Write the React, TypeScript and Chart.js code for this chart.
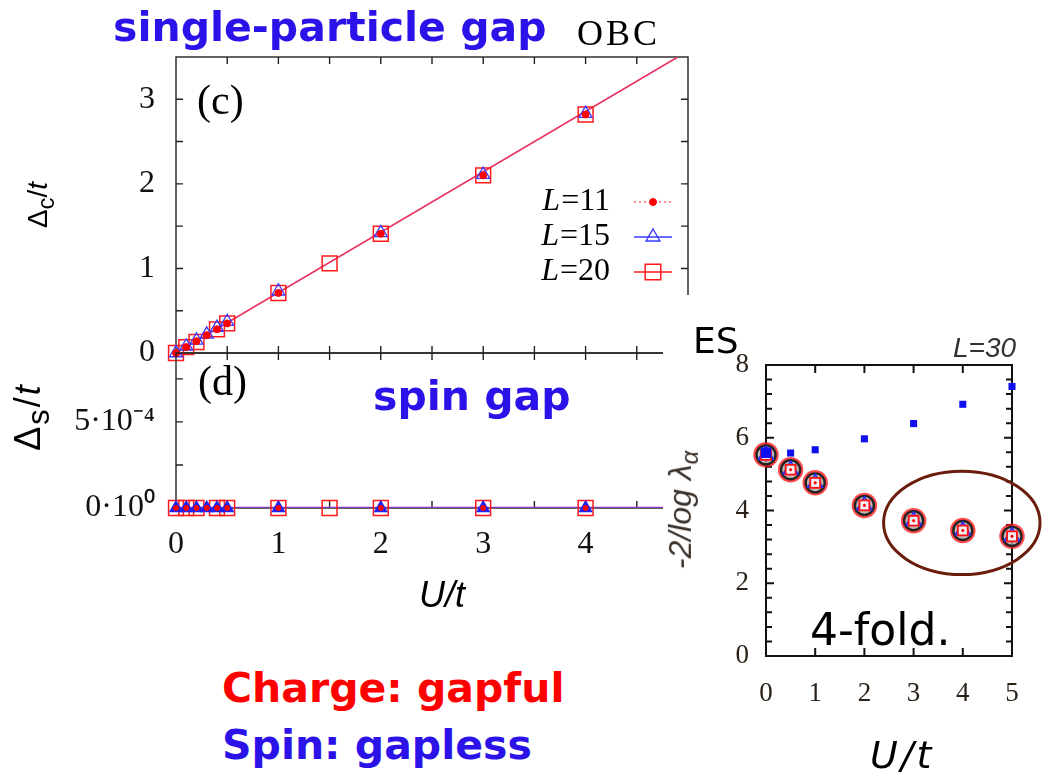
import React, { useEffect, useRef } from 'react';
import { Chart, registerables } from 'chart.js';

Chart.register(...registerables);

// ---------------- data ----------------
const uL11 = [0, 0.1, 0.2, 0.3, 0.4, 0.5, 1, 2, 3, 4];
const gapC_L11 = [0, 0.07, 0.14, 0.21, 0.28, 0.35, 0.71, 1.41, 2.1, 2.82];
const uL15 = [0, 0.1, 0.2, 0.3, 0.4, 0.5, 1, 2, 3, 4];
const gapC_L15 = [0, 0.08, 0.15, 0.22, 0.3, 0.37, 0.73, 1.42, 2.11, 2.83];
const uL20 = [0, 0.1, 0.2, 0.4, 0.5, 1, 1.5, 2, 3, 4];
const gapC_L20 = [0, 0.07, 0.13, 0.28, 0.35, 0.71, 1.06, 1.41, 2.1, 2.82];
const fitU = [0, 4.9];
const fitGapC = [0, 3.5];

const gapS_L11 = [0, 0, 0, 0, 0, 0, 0, 0, 0, 0];
const gapS_L15 = [0, 0, 0, 0, 0, 0, 0, 0, 0, 0];
const gapS_L20 = [0, 0, 0, 0, 0, 0, 0, 0, 0, 0];
const fitUS = [0, 5];
const fitGapS = [0, 0];

const seriesSizes = ['11', '15', '20'];

const cTickValues = [0, 1, 2, 3];
const cFrameX = [0.5, 1, 1.5, 2, 2.5, 3, 3.5, 4, 4.5];
const cFrameY = [0.5, 1, 1.5, 2, 2.5, 3];
const dTickValues = [0, 0.0005];
const dTickLabels = ['0·10⁰', '5·10⁻⁴'];
const dFrameY = [0.00025, 0.0005, 0.00075];
const uTickValues = [0, 1, 2, 3, 4];

const esU = [0, 0.5, 1, 2, 3, 4, 5];
const esUpper = [5.59, 5.58, 5.67, 5.97, 6.39, 6.92, 7.41];
const esLower = [5.53, 5.12, 4.76, 4.14, 3.72, 3.45, 3.29];
const esXTicks = [0, 1, 2, 3, 4, 5];
const esYTicks = [0, 2, 4, 6, 8];
const esYMinor = [0.4, 0.8, 1.2, 1.6, 2.4, 2.8, 3.2, 3.6, 4.4, 4.8, 5.2, 5.6, 6.4, 6.8, 7.2, 7.6];
const ring = { u: 3.98, level: 3.66, du: 1.59, dlevel: 1.42 };

// ---------------- helpers ----------------
const pts = (xs: number[], ys: number[]) => xs.map((x, i) => ({ x, y: ys[i] }));

const RED = '#ff1a1a';
const BLUE = '#3a3aff';
const FIT = '#e8305e';
const SERIF = '"Liberation Serif", "Times New Roman", serif';
const SANS = '"Liberation Sans", Arial, sans-serif';
const GOTHIC = '"DejaVu Sans", sans-serif';

const framePlugin = {
  id: 'frame',
  beforeDatasetsDraw(chart: any, _a: any, o: any) {
    const { ctx, chartArea: a, scales } = chart;
    const x = scales.x, y = scales.y;
    ctx.save();
    ctx.strokeStyle = o.color;
    ctx.lineWidth = o.width;
    ctx.strokeRect(a.left, a.top, a.right - a.left, a.bottom - a.top);
    ctx.beginPath();
    const xt = (vals: number[], len: number) => vals.forEach((v) => {
      const p = x.getPixelForValue(v);
      ctx.moveTo(p, a.bottom); ctx.lineTo(p, a.bottom - len);
      ctx.moveTo(p, a.top); ctx.lineTo(p, a.top + len);
    });
    const yt = (vals: number[], len: number) => vals.forEach((v) => {
      const p = y.getPixelForValue(v);
      ctx.moveTo(a.left, p); ctx.lineTo(a.left + len, p);
      ctx.moveTo(a.right, p); ctx.lineTo(a.right - len, p);
    });
    xt(o.xTicks || [], o.len);
    yt(o.yTicks || [], o.len);
    xt(o.xMinor || [], o.minorLen || o.len);
    yt(o.yMinor || [], o.minorLen || o.len);
    ctx.stroke();
    ctx.restore();
  },
};

function marker(ctx: any, style: string, x: number, y: number, r: number, color: string, fill: boolean) {
  ctx.beginPath();
  if (style === 'circle') ctx.arc(x, y, r, 0, Math.PI * 2);
  else if (style === 'triangle') {
    ctx.moveTo(x, y - r);
    ctx.lineTo(x + r * 0.866, y + r * 0.5);
    ctx.lineTo(x - r * 0.866, y + r * 0.5);
    ctx.closePath();
  } else {
    const s = r * Math.SQRT1_2;
    ctx.rect(x - s, y - s, 2 * s, 2 * s);
  }
  if (fill) { ctx.fillStyle = color; ctx.fill(); }
  ctx.strokeStyle = color;
  ctx.stroke();
}

const legendPlugin = {
  id: 'gLegend',
  afterDatasetsDraw(chart: any, _a: any, o: any) {
    const ctx = chart.ctx;
    ctx.save();
    ctx.textBaseline = 'middle';
    o.items.forEach((it: any, i: number) => {
      const yy = o.y + i * o.dy;
      const rest = '=' + it.size;
      ctx.font = `${o.font}px ${SERIF}`;
      const wRest = ctx.measureText(rest).width;
      ctx.fillStyle = '#000';
      ctx.fillText(rest, o.textRight - wRest, yy);
      ctx.font = `italic ${o.font}px ${SERIF}`;
      const wL = ctx.measureText('L').width;
      ctx.fillText('L', o.textRight - wRest - wL - 1, yy);
      ctx.lineWidth = 1.3;
      ctx.strokeStyle = it.lineColor;
      ctx.setLineDash(it.dash || []);
      ctx.beginPath();
      ctx.moveTo(o.x0, yy);
      ctx.lineTo(o.x1, yy);
      ctx.stroke();
      ctx.setLineDash([]);
      ctx.lineWidth = it.bw;
      marker(ctx, it.style, (o.x0 + o.x1) / 2, yy, it.r, it.color, it.fill);
    });
    ctx.restore();
  },
};

const ringPlugin = {
  id: 'ring',
  afterDatasetsDraw(chart: any, _a: any, o: any) {
    const { ctx, scales } = chart;
    const cx = scales.x.getPixelForValue(o.u);
    const cy = scales.y.getPixelForValue(o.level);
    const rx = Math.abs(scales.x.getPixelForValue(o.u + o.du) - cx);
    const ry = Math.abs(scales.y.getPixelForValue(o.level + o.dlevel) - cy);
    ctx.save();
    ctx.strokeStyle = o.color;
    ctx.lineWidth = o.width;
    ctx.beginPath();
    ctx.ellipse(cx, cy, rx, ry, 0, 0, Math.PI * 2);
    ctx.stroke();
    ctx.restore();
  },
};

const fixX = (height: number) => (s: any) => {
  s.height = height;
  s.paddingLeft = 0; s.paddingRight = 0; s.paddingTop = 0; s.paddingBottom = 0;
};
const fixY = (width: number) => (s: any) => {
  s.width = width;
  s.paddingLeft = 0; s.paddingRight = 0; s.paddingTop = 0; s.paddingBottom = 0;
};

const hiddenAxis = (min: number, max: number) => ({
  type: 'linear', min, max,
  ticks: { display: false },
  grid: { display: false, drawTicks: false },
  border: { display: false },
  afterFit: fixX(0),
});

// ---------------- charts ----------------
function useChart(ref: any, make: () => any) {
  useEffect(() => {
    const chart = new Chart(ref.current, make());
    return () => chart.destroy();
  }, []);
}

function ChargePanel() {
  const ref = useRef<HTMLCanvasElement>(null);
  useChart(ref, () => ({
    type: 'scatter',
    data: {
      datasets: [
        { label: 'L=11', data: pts(uL11, gapC_L11), clip: false, pointStyle: 'circle', pointRadius: 3.5, backgroundColor: '#ff0000', borderColor: '#ff0000', pointBorderWidth: 1 },
        { label: 'L=15', data: pts(uL15, gapC_L15), clip: false, pointStyle: 'triangle', pointRadius: 7.5, backgroundColor: 'rgba(0,0,0,0)', borderColor: BLUE, pointBorderWidth: 1.3 },
        { label: 'L=20', data: pts(uL20, gapC_L20), clip: false, pointStyle: 'rect', pointRadius: 10.5, backgroundColor: 'rgba(0,0,0,0)', borderColor: RED, pointBorderWidth: 1.5 },
        { label: 'fit', data: pts(fitU, fitGapC), showLine: true, pointRadius: 0, borderColor: FIT, borderWidth: 1.6, clip: 0 },
      ],
    },
    options: {
      animation: false, responsive: false, maintainAspectRatio: false,
      layout: { padding: { left: 0, right: 8, top: 57, bottom: 17 } },
      scales: {
        x: hiddenAxis(0, 5),
        y: {
          type: 'linear', min: 0, max: 3.5,
          afterBuildTicks: (s: any) => { s.ticks = cTickValues.map((v) => ({ value: v })); },
          ticks: { font: { family: SERIF, size: 32 }, color: '#111', padding: 21, callback: (v: any) => String(v) },
          grid: { display: false, drawTicks: false },
          border: { display: false },
          afterFit: fixY(176),
        },
      },
      plugins: {
        legend: { display: false }, tooltip: { enabled: false },
        frame: { color: '#222', width: 1.4, len: 7, xTicks: cFrameX, yTicks: cFrameY },
        gLegend: {
          x0: 634, x1: 672, y: 202, dy: 35, textRight: 610, font: 32,
          items: [
            { size: seriesSizes[0], style: 'circle', r: 3.5, color: '#ff0000', fill: true, bw: 1, lineColor: '#ff6a6a', dash: [2, 3] },
            { size: seriesSizes[1], style: 'triangle', r: 8, color: BLUE, fill: false, bw: 1.4, lineColor: BLUE },
            { size: seriesSizes[2], style: 'rect', r: 11, color: RED, fill: false, bw: 1.5, lineColor: RED },
          ],
        },
      },
    },
    plugins: [framePlugin, legendPlugin],
  }));
  return <canvas ref={ref} width={700} height={370} style={{ position: 'absolute', left: 0, top: 0 }} />;
}

function SpinPanel() {
  const ref = useRef<HTMLCanvasElement>(null);
  useChart(ref, () => ({
    type: 'scatter',
    data: {
      datasets: [
        { label: 'L=11', data: pts(uL11, gapS_L11), clip: false, pointStyle: 'circle', pointRadius: 2.5, backgroundColor: '#ff0000', borderColor: '#ff0000', pointBorderWidth: 1 },
        { label: 'L=15', data: pts(uL15, gapS_L15), clip: false, pointStyle: 'triangle', pointRadius: 7, backgroundColor: '#2222ee', borderColor: '#2222ee', pointBorderWidth: 1.3 },
        { label: 'L=20', data: pts(uL20, gapS_L20), clip: false, pointStyle: 'rect', pointRadius: 10.5, backgroundColor: 'rgba(0,0,0,0)', borderColor: RED, pointBorderWidth: 1.5 },
        { label: 'fit', data: pts(fitUS, fitGapS), showLine: true, pointRadius: 0, borderColor: '#8a3acb', borderWidth: 2.5, clip: 0 },
      ],
    },
    options: {
      animation: false, responsive: false, maintainAspectRatio: false,
      layout: { padding: { left: 0, right: 8, top: 13, bottom: 0 } },
      scales: {
        x: {
          type: 'linear', min: 0, max: 5,
          afterBuildTicks: (s: any) => { s.ticks = uTickValues.map((v) => ({ value: v })); },
          ticks: { font: { family: SERIF, size: 32 }, color: '#111', padding: 17, callback: (v: any) => String(v) },
          grid: { display: false, drawTicks: false },
          border: { display: false },
          afterFit: fixX(132),
        },
        y: {
          type: 'linear', min: 0, max: 0.0009,
          afterBuildTicks: (s: any) => { s.ticks = dTickValues.map((v) => ({ value: v })); },
          ticks: { font: { family: SERIF, size: 32 }, color: '#111', padding: 21, callback: (_v: any, i: number) => dTickLabels[i] },
          grid: { display: false, drawTicks: false },
          border: { display: false },
          afterFit: fixY(176),
        },
      },
      plugins: {
        legend: { display: false }, tooltip: { enabled: false },
        frame: { color: '#222', width: 1.4, len: 7, xTicks: cFrameX, yTicks: dFrameY },
      },
    },
    plugins: [framePlugin],
  }));
  return <canvas ref={ref} width={700} height={300} style={{ position: 'absolute', left: 0, top: 340 }} />;
}

function ESPanel() {
  const ref = useRef<HTMLCanvasElement>(null);
  useChart(ref, () => {
    const lower = pts(esU, esLower);
    return {
      type: 'scatter',
      data: {
        datasets: [
          { label: 'upper', data: pts(esU, esUpper), clip: false, pointStyle: 'rect', pointRadius: [7.5, 5, 5, 5, 5, 5, 5], backgroundColor: '#1010ee', borderColor: '#1010ee', pointBorderWidth: 0 },
          { label: 'dot', data: lower, clip: false, pointStyle: 'circle', pointRadius: 1.3, backgroundColor: '#ff0000', borderColor: '#ff0000', pointBorderWidth: 0.5 },
          { label: 'square', data: lower, clip: false, pointStyle: 'rect', pointRadius: 7, backgroundColor: 'rgba(255,255,255,0.85)', borderColor: '#ff1010', pointBorderWidth: 1.8 },
          { label: 'triangle', data: lower, clip: false, pointStyle: 'triangle', pointRadius: 8.5, backgroundColor: 'rgba(0,0,0,0)', borderColor: '#2a2aff', pointBorderWidth: 1.6 },
          { label: 'ringBlack', data: lower, clip: false, pointStyle: 'circle', pointRadius: 9.5, backgroundColor: 'rgba(175,175,175,0.75)', borderColor: '#222', pointBorderWidth: 2.4 },
          { label: 'glow', data: lower, clip: false, pointStyle: 'circle', pointRadius: 11.5, backgroundColor: 'rgba(255,80,80,0.25)', borderColor: 'rgba(255,20,20,0.75)', pointBorderWidth: 2.5 },
        ],
      },
      options: {
        animation: false, responsive: false, maintainAspectRatio: false,
        layout: { padding: { left: 0, right: 31, top: 70, bottom: 0 } },
        scales: {
          x: {
            type: 'linear', min: 0, max: 5,
            afterBuildTicks: (s: any) => { s.ticks = esXTicks.map((v) => ({ value: v })); },
            ticks: { font: { family: SERIF, size: 27 }, color: '#2a2118', padding: 22, callback: (v: any) => String(v) },
            grid: { display: false, drawTicks: false },
            border: { display: false },
            afterFit: fixX(121),
          },
          y: {
            type: 'linear', min: 0, max: 8,
            afterBuildTicks: (s: any) => { s.ticks = esYTicks.map((v) => ({ value: v })); },
            ticks: { font: { family: SERIF, size: 27 }, color: '#2a2118', padding: 17, callback: (v: any) => String(v) },
            grid: { display: false, drawTicks: false },
            border: { display: false },
            afterFit: fixY(103),
          },
        },
        plugins: {
          legend: { display: false }, tooltip: { enabled: false },
          frame: { color: '#111', width: 2, len: 8, minorLen: 6, xTicks: esXTicks, yTicks: esYTicks, yMinor: esYMinor },
          ring: { ...ring, color: '#6b1d0c', width: 3 },
        },
      },
      plugins: [framePlugin, ringPlugin],
    };
  });
  return <canvas ref={ref} width={380} height={482} style={{ position: 'absolute', left: 663, top: 295, background: '#fff' }} />;
}

// ---------------- text ----------------
const baseK = (family: string) => (family.includes('Serif') ? 0.8375 : 0.846);

function Txt(p: any) {
  const fam = p.family || GOTHIC;
  const tx = p.anchor === 'middle' ? 'translateX(-50%)' : p.anchor === 'end' ? 'translateX(-100%)' : undefined;
  return (
    <div style={{
      position: 'absolute', left: p.x, top: p.base - baseK(fam) * p.size,
      fontSize: p.size, lineHeight: `${p.size}px`, fontFamily: fam,
      fontWeight: p.weight || 'normal', fontStyle: p.italic ? 'italic' : 'normal',
      color: p.color || '#000', whiteSpace: 'nowrap', letterSpacing: p.spacing || 0, transform: tx,
    }}>{p.children}</div>
  );
}

function VTxt(p: any) {
  return (
    <div style={{
      position: 'absolute', left: p.cx, top: p.cy, fontSize: p.size, lineHeight: `${p.size}px`,
      fontFamily: p.family || SANS, fontStyle: p.italic ? 'italic' : 'normal', color: p.color || '#000',
      whiteSpace: 'nowrap', letterSpacing: p.spacing || 0,
      transform: 'translate(-50%, -50%) rotate(-90deg)',
    }}>{p.children}</div>
  );
}

const TITLE_BLUE = '#2b12e8';
const sub = (s: string, italic = false, scale = 0.75) => (
  <span style={{ fontSize: `${scale}em`, verticalAlign: '-0.3em', fontStyle: italic ? 'italic' : 'normal' }}>{s}</span>
);

export default function App() {
  return (
    <div style={{ position: 'absolute', left: 0, top: 0, width: 1043, height: 777, background: '#fff', overflow: 'hidden' }}>
      <ChargePanel />
      <SpinPanel />
      <ESPanel />

      <Txt x={113} base={42} size={41} weight="bold" color={TITLE_BLUE}>single-particle gap</Txt>
      <Txt x={577} base={45} size={36} family={SERIF} spacing={3}>OBC</Txt>
      <Txt x={197} base={114} size={42} family={SERIF}>(c)</Txt>
      <Txt x={198} base={395} size={42} family={SERIF}>(d)</Txt>
      <Txt x={373} base={411} size={41} weight="bold" color={TITLE_BLUE}>spin gap</Txt>

      <VTxt cx={42} cy={205} size={28}>Δ{sub('c', false, 0.85)}/<i>t</i></VTxt>
      <VTxt cx={33} cy={417} size={36} spacing={2}>Δ{sub('s', false, 0.85)}/<i>t</i></VTxt>
      <Txt x={442} base={607} size={36} family={SANS} italic anchor="middle">U/t</Txt>

      <Txt x={693} base={353} size={36}>ES</Txt>
      <Txt x={953} base={358} size={28} family={SANS} italic color="#333">L=30</Txt>
      <VTxt cx={685} cy={510} size={32} italic color="#3a302a">-2/log λ{sub('α', true)}</VTxt>
      <Txt x={810} base={645} size={44}>4-fold.</Txt>
      <Txt x={870} base={768} size={38} italic spacing={3}>U/t</Txt>

      <Txt x={222} base={703} size={41} weight="bold" color="#ff0000">Charge: gapful</Txt>
      <Txt x={222} base={760} size={41} weight="bold" color={TITLE_BLUE}>Spin: gapless</Txt>
    </div>
  );
}
